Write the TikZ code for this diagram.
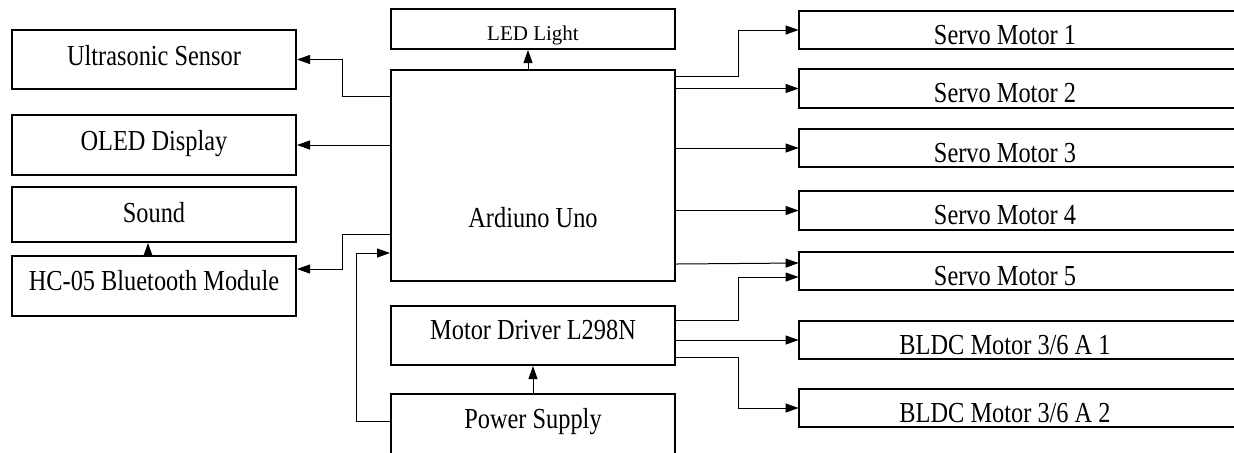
\documentclass[tikz,border=0pt]{standalone}
\usepackage{fontspec}
\setmainfont[FakeStretch=0.84]{Liberation Serif}
\newfontfamily\ledfont{Liberation Serif}
\usetikzlibrary{arrows.meta}
\tikzset{
blk/.style={draw, line width=1pt, inner sep=0pt, minimum width=142pt, text depth=0pt, font=\fontsize{14.5}{17}\selectfont},
rblk/.style={inner sep=0pt, minimum width=206pt, minimum height=19pt, text height=14pt, text depth=0pt, font=\fontsize{14.5}{17}\selectfont},
conn/.style={line width=0.5pt, -{Triangle[length=6.5pt,width=4.5pt]}}
}
\begin{document}
\begin{tikzpicture}[x=0.5pt,y=-0.5pt]
\useasboundingbox (0,0) rectangle (1234,452);
\clip (0,0) rectangle (1234,452);
\node [blk, minimum height=29.5pt, text height=5.5pt] (us) at (154,59.5) {Ultrasonic Sensor};
\node [blk, minimum height=30pt, text height=5pt] (oled) at (154,145) {OLED Display};
\node [blk, minimum height=27.5pt, text height=7.5pt] (sound) at (154,214.5) {Sound};
\node [blk, minimum height=30pt, text height=4pt] (hc) at (154,286) {HC-05 Bluetooth Module};
\node [blk, minimum height=20pt, text height=11pt, font=\ledfont\fontsize{10.5}{12}\selectfont] (led) at (533,29) {LED Light};
\node [blk, minimum height=105.5pt, text height=51.5pt] (uno) at (533,175.5) {Ardiuno Uno};
\node [blk, minimum height=29.5pt, text height=3.5pt] (drv) at (533,335.5) {Motor Driver L298N};
\node [blk, minimum height=43pt, text height=0pt, text depth=9pt] (pwr) at (533,437) {Power Supply};
\node [rblk] (s1) at (1005,30) {Servo Motor 1};
\node [rblk] (s2) at (1005,88.5) {Servo Motor 2};
\node [rblk] (s3) at (1005,148) {Servo Motor 3};
\node [rblk] (s4) at (1005,210.5) {Servo Motor 4};
\node [rblk] (s5) at (1005,271) {Servo Motor 5};
\node [rblk] (b1) at (1005,340) {BLDC Motor 3/6 A 1};
\node [rblk] (b2) at (1005,408) {BLDC Motor 3/6 A 2};
\foreach \n in {s1,s2,s3,s4,s5,b1,b2}{
\draw [line width=1pt] ([xshift=40pt]\n.north east) -- (\n.north west) -- (\n.south west) -- ([xshift=40pt]\n.south east);
}
\draw [conn] ([yshift=-13.5pt]uno.north west) -- ++(-24pt,0) |- (us.east);
\draw [conn] (uno.west |- oled.east) -- (oled.east);
\draw [conn] ([yshift=24pt]uno.south west) -- ++(-24pt,0) |- ([yshift=8.5pt]hc.east);
\draw [conn] ([xshift=-3pt]hc.north) -- ([xshift=-3pt]sound.south);
\draw [conn] ([yshift=8pt]pwr.west) -- ++(-17pt,0) |- ([yshift=14.5pt]uno.south west);
\draw [conn] ([xshift=-2.5pt]uno.north) -- ([xshift=-2.5pt]led.south);
\draw [conn] (pwr.north) -- (drv.south);
\draw [conn] ([yshift=-3.5pt]uno.north east) -- ++(31pt,0) |- (s1.west);
\foreach \m in {s2,s3,s4}{
\draw [conn] (uno.east |- \m.west) -- (\m.west);
}
\draw [conn] ([yshift=9pt]uno.south east) -- ([yshift=4pt]s5.west);
\draw [conn] ([yshift=-7.5pt]drv.north east) -- ++(31pt,0) |- ([yshift=-3pt]s5.west);
\draw [conn] (drv.east |- b1.west) -- (b1.west);
\draw [conn] ([yshift=4.5pt]drv.south east) -- ++(31pt,0) |- (b2.west);
\end{tikzpicture}
\end{document}
